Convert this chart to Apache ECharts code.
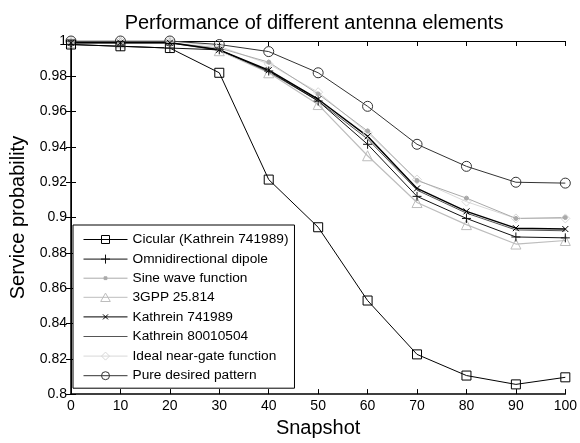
<!DOCTYPE html>
<html>
<head>
<meta charset="utf-8">
<script src="https://cdn.jsdelivr.net/npm/echarts@6/dist/echarts.min.js"></script>
<style>
  html, body { margin: 0; padding: 0; background: #fff; }
  #chart { width: 580px; height: 443px; }
</style>
</head>
<body>
<div id="chart"></div>
<script>
// snapshot positions
const snapshots = [0, 10, 20, 30, 40, 50, 60, 70, 80, 90, 100]

// service probability per antenna element
const cicular = [0.998, 0.997, 0.996, 0.982, 0.9215, 0.8945, 0.853, 0.8225, 0.8105, 0.8055, 0.8095]
const omniDipole = [0.998, 0.997, 0.996, 0.995, 0.983, 0.966, 0.9415, 0.912, 0.8995, 0.889, 0.8885]
const sineWave = [0.999, 0.999, 0.999, 0.996, 0.988, 0.970, 0.949, 0.921, 0.911, 0.8995, 0.900]
const gpp25814 = [0.999, 0.999, 0.999, 0.9945, 0.982, 0.964, 0.935, 0.9085, 0.896, 0.885, 0.887]
const kathrein741989 = [0.999, 0.999, 0.999, 0.995, 0.9835, 0.967, 0.946, 0.9165, 0.9035, 0.894, 0.8935]
const kathrein80010504 = [0.999, 0.999, 0.999, 0.995, 0.9825, 0.966, 0.9445, 0.9155, 0.9025, 0.893, 0.8925]
const idealNearGate = [1.0, 1.0, 1.0, 0.997, 0.987, 0.971, 0.948, 0.9215, 0.909, 0.8995, 0.8995]
const pureDesired = [1.0, 1.0, 1.0, 0.998, 0.994, 0.982, 0.963, 0.9415, 0.929, 0.920, 0.9195]

const FONT = 'Liberation Sans, Arial, sans-serif'

// matlab-like hollow markers (thin outline, no fill)
const SQUARE = 'path://M0,0L10,0L10,10L0,10Z'
const CIRCLE = 'path://M10,5A5,5,0,1,1,0,5A5,5,0,1,1,10,5Z'
const TRIANGLE = 'path://M5,0L10,9L0,9Z'
const DIAMOND = 'path://M5,0L10,5L5,10L0,5Z'
const PLUS = 'path://M5,0L5,10M0,5L10,5'
const CROSS = 'path://M0,0L10,10M10,0L0,10'

// legend icons: a 44x10 box, line through the middle + the marker
const BOX = 'M22,0M22,10M0,5L44,5'
const legendIcons = {
  sq: 'path://' + BOX + 'M18,1L26,1L26,9L18,9Z',
  plus: 'path://' + BOX + 'M22,0.5L22,9.5M17.5,5L26.5,5',
  dot: 'path://' + BOX + 'M20.6,3.6L23.4,3.6L23.4,6.4L20.6,6.4Z',
  tri: 'path://' + BOX + 'M22,0.8L26.8,9.2L17.2,9.2Z',
  cross: 'path://' + BOX + 'M19.5,2.5L24.5,7.5M24.5,2.5L19.5,7.5',
  line: 'path://' + BOX,
  dia: 'path://' + BOX + 'M22,1L26,5L22,9L18,5Z',
  circ: 'path://' + BOX + 'M26,5A4,4,0,1,1,18,5A4,4,0,1,1,26,5Z'
}

function legendItem(name, icon, color, filled) {
  return {
    name: name,
    icon: legendIcons[icon],
    itemStyle: { color: filled ? color : 'none', borderColor: color, borderWidth: 1 }
  }
}

function mk(name, data, color, width, symbol, size, filled) {
  return {
    name: name,
    type: 'line',
    data: snapshots.map((x, i) => [x, data[i]]),
    symbol: symbol,
    symbolSize: size,
    lineStyle: { color: color, width: width },
    itemStyle: { color: filled ? color : 'none', borderColor: color, borderWidth: 1 },
    emphasis: { disabled: true },
    animation: false
  }
}

const chart = echarts.init(document.getElementById('chart'))

const sideAxis = {
  axisLine: { show: true, lineStyle: { color: '#000', width: 1 } },
  axisTick: { show: true, inside: true, length: 5, lineStyle: { color: '#000' } },
  axisLabel: { show: false },
  splitLine: { show: false }
}

chart.setOption({
  backgroundColor: '#fff',
  title: {
    text: 'Performance of different antenna elements',
    left: 309,
    textAlign: 'center',
    top: 8,
    textStyle: { fontFamily: FONT, fontSize: 20, fontWeight: 'normal', color: '#000' }
  },
  grid: { left: 66, right: 13, top: 41, bottom: 42 },
  legend: {
    data: [
      legendItem('Cicular (Kathrein 741989)', 'sq', '#000000', false),
      legendItem('Omnidirectional dipole', 'plus', '#111111', false),
      legendItem('Sine wave function', 'dot', '#aaaaaa', true),
      legendItem('3GPP 25.814', 'tri', '#bdbdbd', false),
      legendItem('Kathrein 741989', 'cross', '#000000', false),
      legendItem('Kathrein 80010504', 'line', '#555555', false),
      legendItem('Ideal near-gate function', 'dia', '#d8d8d8', false),
      legendItem('Pure desired pattern', 'circ', '#333333', false)
    ],
    orient: 'vertical',
    left: 73,
    top: 225,
    padding: [7, 6, 5, 8],
    itemWidth: 44,
    itemHeight: 10,
    itemGap: 4.6,
    itemTextGap: 3,
    borderColor: '#000',
    borderWidth: 1,
    backgroundColor: '#fff',
    selectedMode: false,
    textStyle: { fontFamily: FONT, fontSize: 13.7, color: '#000' }
  },
  xAxis: [
    {
      type: 'value', min: 0, max: 100, interval: 10,
      name: 'Snapshot', nameLocation: 'middle', nameGap: 23,
      nameTextStyle: { fontFamily: FONT, fontSize: 20, color: '#000' },
      axisLine: { show: true, onZero: false, lineStyle: { color: '#000', width: 1.5 } },
      axisTick: { inside: true, length: 5, lineStyle: { color: '#000' } },
      axisLabel: { fontFamily: FONT, fontSize: 14, color: '#000', margin: 5 },
      splitLine: { show: false }
    },
    Object.assign({ type: 'value', min: 0, max: 100, interval: 10, position: 'top' }, sideAxis)
  ],
  yAxis: [
    {
      type: 'value', min: 0.8, max: 1, interval: 0.02,
      name: 'Service probability', nameLocation: 'middle', nameGap: 43,
      nameTextStyle: { fontFamily: FONT, fontSize: 20, color: '#000' },
      axisLine: { show: true, onZero: false, lineStyle: { color: '#000', width: 1.5 } },
      axisTick: { show: true, inside: true, length: 5, lineStyle: { color: '#000' } },
      axisLabel: {
        fontFamily: FONT, fontSize: 14, color: '#000', margin: 4,
        formatter: v => String(Math.round(v * 100) / 100)
      },
      splitLine: { show: false }
    },
    Object.assign({ type: 'value', min: 0.8, max: 1, interval: 0.02, position: 'right' }, sideAxis)
  ],
  series: [
    mk('Ideal near-gate function', idealNearGate, '#d8d8d8', 1, DIAMOND, 9, false),
    mk('Sine wave function', sineWave, '#aaaaaa', 1, 'circle', 4, true),
    mk('3GPP 25.814', gpp25814, '#bdbdbd', 1.2, TRIANGLE, 10, false),
    mk('Kathrein 80010504', kathrein80010504, '#555555', 1, 'none', 0, false),
    mk('Omnidirectional dipole', omniDipole, '#111111', 1, PLUS, 9, false),
    mk('Kathrein 741989', kathrein741989, '#000000', 1.5, CROSS, 6, false),
    mk('Pure desired pattern', pureDesired, '#333333', 1, CIRCLE, 10, false),
    mk('Cicular (Kathrein 741989)', cicular, '#000000', 1, SQUARE, 9, false)
  ]
})
</script>
</body>
</html>
